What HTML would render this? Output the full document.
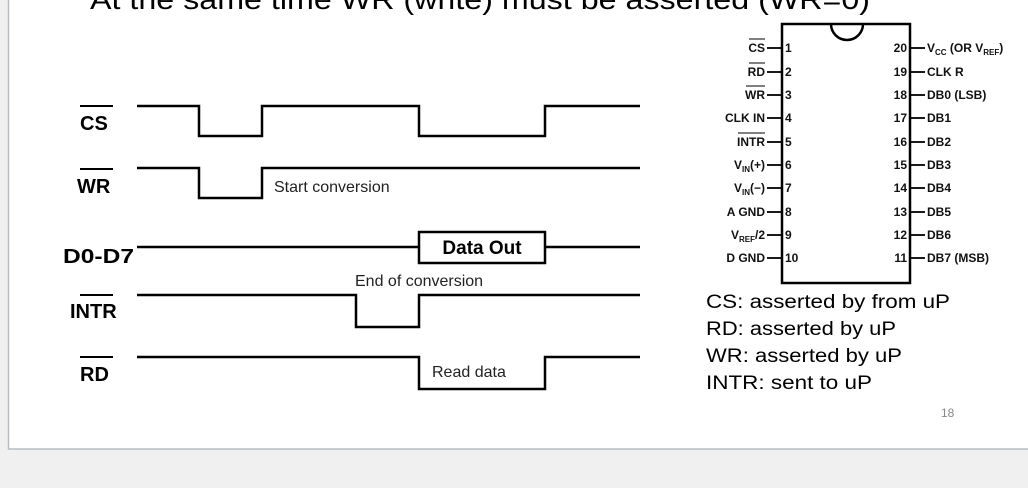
<!DOCTYPE html>
<html><head><meta charset="utf-8"><style>
html,body{margin:0;padding:0;background:#f0f0f0;}
svg{display:block;}
</style></head><body>
<svg width="1028" height="488" viewBox="0 0 1028 488" xmlns="http://www.w3.org/2000/svg" font-family="Liberation Sans, Arial, sans-serif">
<rect x="0" y="0" width="1028" height="488" fill="#f0f0f0"/>
<rect x="8.5" y="-5" width="1030" height="454" fill="#fff" stroke="#b8bcc0" stroke-width="1.5"/>
<text x="90" y="9" font-size="28" font-family="Liberation Sans, sans-serif" textLength="780" lengthAdjust="spacingAndGlyphs" fill="#000">At the same time WR (write) must be asserted (WR=0)</text>

<g stroke="#000" stroke-width="2.5" fill="none">
<polyline points="137,106 199,106 199,136 262,136 262,106 419,106 419,136 545,136 545,106 640,106"/>
<polyline points="137,168 199,168 199,198 262,198 262,168 640,168"/>
<line x1="137" y1="247" x2="419" y2="247"/><line x1="545" y1="247" x2="640" y2="247"/>
<rect x="419" y="232" width="126" height="31"/>
<polyline points="137,295 356,295 356,327 419,327 419,295 640,295"/>
<polyline points="137,357 419,357 419,389 545,389 545,357 640,357"/>
</g>
<g font-weight="bold" font-size="20" fill="#000">
<text x="80" y="130">CS</text><line x1="80" y1="106" x2="113" y2="106" stroke="#000" stroke-width="2"/>
<text x="77" y="193">WR</text><line x1="80" y1="169" x2="113" y2="169" stroke="#000" stroke-width="2"/>
<text x="63" y="263" textLength="71" lengthAdjust="spacingAndGlyphs">D0-D7</text>
<text x="70" y="318">INTR</text><line x1="80" y1="295" x2="113" y2="295" stroke="#000" stroke-width="2"/>
<text x="80" y="381">RD</text><line x1="80" y1="357" x2="113" y2="357" stroke="#000" stroke-width="2"/>
<text x="482" y="254" text-anchor="middle" font-size="19">Data Out</text>
</g>
<g font-size="16" fill="#222">
<text x="274" y="192">Start conversion</text>
<text x="355" y="286">End of conversion</text>
<text x="432" y="377">Read data</text>
</g>

<g stroke="#000" stroke-width="2.5" fill="none">
<rect x="782" y="24" width="128" height="259"/>
<path d="M831 24 A16 16 0 0 0 863 24"/>
</g>
<g stroke="#000" stroke-width="1.8">
<line x1="767" y1="48" x2="782" y2="48"/><line x1="767" y1="72" x2="782" y2="72"/><line x1="767" y1="95" x2="782" y2="95"/><line x1="767" y1="118" x2="782" y2="118"/><line x1="767" y1="142" x2="782" y2="142"/><line x1="767" y1="165" x2="782" y2="165"/><line x1="767" y1="188" x2="782" y2="188"/><line x1="767" y1="212" x2="782" y2="212"/><line x1="767" y1="235" x2="782" y2="235"/><line x1="767" y1="258" x2="782" y2="258"/>
<line x1="910" y1="48" x2="925" y2="48"/><line x1="910" y1="72" x2="925" y2="72"/><line x1="910" y1="95" x2="925" y2="95"/><line x1="910" y1="118" x2="925" y2="118"/><line x1="910" y1="142" x2="925" y2="142"/><line x1="910" y1="165" x2="925" y2="165"/><line x1="910" y1="188" x2="925" y2="188"/><line x1="910" y1="212" x2="925" y2="212"/><line x1="910" y1="235" x2="925" y2="235"/><line x1="910" y1="258" x2="925" y2="258"/>
</g>
<g font-size="12" font-weight="bold" fill="#111">
<g text-anchor="start">
<text x="785" y="52">1</text><text x="785" y="76">2</text><text x="785" y="99">3</text><text x="785" y="122">4</text><text x="785" y="146">5</text><text x="785" y="169">6</text><text x="785" y="192">7</text><text x="785" y="216">8</text><text x="785" y="239">9</text><text x="785" y="262">10</text>
</g>
<g text-anchor="end">
<text x="907" y="52">20</text><text x="907" y="76">19</text><text x="907" y="99">18</text><text x="907" y="122">17</text><text x="907" y="146">16</text><text x="907" y="169">15</text><text x="907" y="192">14</text><text x="907" y="216">13</text><text x="907" y="239">12</text><text x="907" y="262">11</text>
<text x="765" y="52">CS</text><text x="765" y="76">RD</text><text x="765" y="99">WR</text><text x="765" y="122">CLK IN</text><text x="765" y="146">INTR</text>
<text x="765" y="169">V<tspan font-size="8" dy="3">IN</tspan><tspan dy="-3">(+)</tspan></text>
<text x="765" y="192">V<tspan font-size="8" dy="3">IN</tspan><tspan dy="-3">(−)</tspan></text>
<text x="765" y="216">A GND</text>
<text x="765" y="239">V<tspan font-size="8" dy="3">REF</tspan><tspan dy="-3">/2</tspan></text>
<text x="765" y="262">D GND</text>
</g>
<g stroke="#000" stroke-width="1">
<line x1="749" y1="39" x2="765" y2="39"/><line x1="749" y1="63" x2="765" y2="63"/><line x1="746" y1="86" x2="765" y2="86"/><line x1="738" y1="133" x2="765" y2="133"/>
</g>
<text x="927" y="52">V<tspan font-size="8" dy="3">CC</tspan><tspan dy="-3"> (OR V</tspan><tspan font-size="8" dy="3">REF</tspan><tspan dy="-3">)</tspan></text>
<text x="927" y="76">CLK R</text><text x="927" y="99">DB0 (LSB)</text><text x="927" y="122">DB1</text><text x="927" y="146">DB2</text><text x="927" y="169">DB3</text><text x="927" y="192">DB4</text><text x="927" y="216">DB5</text><text x="927" y="239">DB6</text><text x="927" y="262">DB7 (MSB)</text>
</g>

<g font-size="19" fill="#000">
<text x="706" y="308" textLength="244" lengthAdjust="spacingAndGlyphs">CS: asserted by from uP</text>
<text x="706" y="335" textLength="190" lengthAdjust="spacingAndGlyphs">RD: asserted by uP</text>
<text x="706" y="362" textLength="196" lengthAdjust="spacingAndGlyphs">WR: asserted by uP</text>
<text x="706" y="389" textLength="166" lengthAdjust="spacingAndGlyphs">INTR: sent to uP</text>
</g>
<text x="941" y="417" font-size="12" fill="#888">18</text>
</svg>
</body></html>
